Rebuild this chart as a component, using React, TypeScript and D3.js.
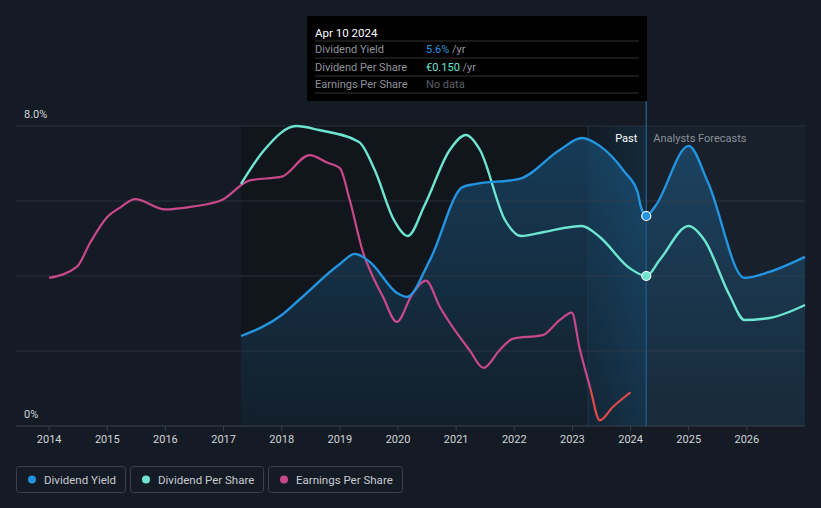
import React from "react";
import * as d3 from "d3";

const W = 821;
const H = 508;

const yearTicks = [2014, 2015, 2016, 2017, 2018, 2019, 2020, 2021, 2022, 2023, 2024, 2025, 2026];

// Dividend Yield (%), [decimal year, value]
const yieldYears = [2017.3, 2018.0, 2018.31, 2019.0, 2019.26, 2019.52, 2019.98, 2020.15, 2020.55, 2021.11, 2021.32, 2022.09, 2022.78, 2023.16, 2023.47, 2023.9, 2024.12, 2024.17, 2024.27, 2024.42, 2025.0, 2025.33, 2025.96, 2026.39, 2027.0];
const yieldValues = [2.4, 2.96, 3.38, 4.32, 4.59, 4.37, 3.55, 3.44, 4.43, 6.37, 6.45, 6.59, 7.36, 7.68, 7.47, 6.77, 6.24, 5.89, 5.6, 5.85, 7.47, 6.5, 3.95, 4.11, 4.51];

// Dividend Per Share (€)
const dpsYears = [2017.3, 2017.7, 2018.25, 2018.64, 2019.33, 2019.6, 2019.93, 2020.17, 2020.46, 2020.89, 2021.17, 2021.41, 2021.84, 2022.12, 2022.51, 2023.16, 2023.47, 2023.98, 2024.27, 2024.5, 2025.0, 2025.27, 2025.7, 2025.96, 2026.39, 2027.0];
const dpsValues = [0.242, 0.276, 0.3, 0.296, 0.284, 0.256, 0.206, 0.19, 0.221, 0.276, 0.291, 0.276, 0.206, 0.19, 0.194, 0.2, 0.189, 0.158, 0.15, 0.166, 0.2, 0.186, 0.131, 0.106, 0.108, 0.121];

// Earnings Per Share (€)
const epsYears = [2014.0, 2014.48, 2014.7, 2015.0, 2015.22, 2015.48, 2015.99, 2016.46, 2016.97, 2017.45, 2018.0, 2018.48, 2018.78, 2019.0, 2019.17, 2019.4, 2019.57, 2019.74, 2019.98, 2020.24, 2020.48, 2020.72, 2021.06, 2021.23, 2021.47, 2021.75, 2021.97, 2022.49, 2022.78, 2022.99, 2023.12, 2023.3, 2023.47, 2023.69, 2024.0];
const epsValues = [1.18, 1.3, 1.55, 1.83, 1.93, 2.02, 1.91, 1.94, 2.01, 2.22, 2.26, 2.49, 2.41, 2.35, 2.01, 1.45, 1.19, 0.98, 0.71, 1.0, 1.15, 0.87, 0.55, 0.41, 0.22, 0.41, 0.53, 0.57, 0.73, 0.81, 0.44, 0.02, -0.34, -0.2, -0.04];

const legendItems = ["Dividend Yield", "Dividend Per Share", "Earnings Per Share"];
const nowYear = 2024.27;
const bandStartYear = 2023.27;

const C_YIELD = "#2394df";
const C_DPS = "#6ce6d1";
const C_EPS = "#c9488a";
const C_NEG = "#e04a4a";
const FONT = "Roboto, 'Open Sans', sans-serif";

export default function App() {
  const left = 16, right = 805, top = 126, bottom = 426;
  const x = d3.scaleLinear().domain([2013.43, 2027.0]).range([left, right]);
  const yPct = d3.scaleLinear().domain([0, 8]).range([bottom, top]);
  const yDps = d3.scaleLinear().domain([0, 0.3]).range([bottom, top]);
  const yEps = d3.scaleLinear().domain([-0.4, 2.8]).range([bottom, top]);

  const yieldData = yieldYears.map((t, i) => [t, yieldValues[i]] as [number, number]);
  const dpsData = dpsYears.map((t, i) => [t, dpsValues[i]] as [number, number]);
  const epsData = epsYears.map((t, i) => [t, epsValues[i]] as [number, number]);

  const curve = d3.curveMonotoneX;
  const yieldLine = d3.line<[number, number]>().x(d => x(d[0])).y(d => yPct(d[1])).curve(curve);
  const yieldArea = d3.area<[number, number]>().x(d => x(d[0])).y0(bottom).y1(d => yPct(d[1])).curve(curve);
  const dpsLine = d3.line<[number, number]>().x(d => x(d[0])).y(d => yDps(d[1])).curve(curve);
  const epsLine = d3.line<[number, number]>().x(d => x(d[0])).y(d => yEps(d[1])).curve(curve);

  const xNow = x(nowYear);
  const xStart = x(yieldYears[0]);
  const xBand = x(bandStartYear);
  const zeroEps = yEps(0);
  const grid = [0, 2, 4, 6, 8];

  const yNowYield = yPct(5.6);
  const yNowDps = yDps(0.15);

  return (
    <svg width={W} height={H} style={{ position: "absolute", left: 0, top: 0, background: "#151b24", fontFamily: FONT }}>
      <defs>
        <linearGradient id="areaGrad" x1="0" y1="0" x2="0" y2="1">
          <stop offset="0%" stopColor={C_YIELD} stopOpacity={0.3} />
          <stop offset="100%" stopColor={C_YIELD} stopOpacity={0.08} />
        </linearGradient>
        <linearGradient id="bandGrad" x1="0" y1="0" x2="1" y2="0">
          <stop offset="0%" stopColor={C_YIELD} stopOpacity={0.04} />
          <stop offset="100%" stopColor={C_YIELD} stopOpacity={0.16} />
        </linearGradient>
        <clipPath id="posClip"><rect x={0} y={0} width={W} height={zeroEps} /></clipPath>
        <clipPath id="negClip"><rect x={0} y={zeroEps} width={W} height={H - zeroEps} /></clipPath>
      </defs>
      <rect x={0} y={0} width={W} height={H} fill="#151b24" />
      {/* past darker region */}
      <rect x={xStart} y={top} width={xNow - xStart} height={bottom - top} fill="#0f1319" opacity={0.7} />
      {/* forecast region */}
      <rect x={xNow} y={top} width={right - xNow} height={bottom - top} fill="#18202b" />
      {/* area under yield */}
      <path d={yieldArea(yieldData) || ""} fill="url(#areaGrad)" />
      {/* last-year band */}
      <rect x={xBand} y={top} width={xNow - xBand} height={bottom - top} fill="url(#bandGrad)" />
      <line x1={xBand} x2={xBand} y1={top} y2={bottom} stroke="#1f3a55" strokeWidth={1} />
      {/* grid */}
      {grid.map(g => (
        <line key={g} x1={left} x2={right} y1={yPct(g)} y2={yPct(g)} stroke="#3a414b" strokeOpacity={g === 0 ? 1 : 0.6} strokeWidth={1} />
      ))}
      {/* now line */}
      <line x1={xNow} x2={xNow} y1={100} y2={bottom} stroke="#1e5680" strokeWidth={1.5} />
      {/* x ticks */}
      {yearTicks.map(t => (
        <g key={t}>
          <line x1={x(t)} x2={x(t)} y1={bottom} y2={bottom + 5} stroke="#3a414b" />
          <text x={x(t)} y={443} textAnchor="middle" fontSize={11} fill="#d0d3d8">{t}</text>
        </g>
      ))}
      {/* y labels */}
      <text x={24} y={118} fontSize={11} fill="#d0d3d8">8.0%</text>
      <text x={24} y={418} fontSize={11} fill="#d0d3d8">0%</text>
      {/* lines */}
      <path d={epsLine(epsData) || ""} fill="none" stroke={C_EPS} strokeWidth={2.2} clipPath="url(#posClip)" />
      <path d={epsLine(epsData) || ""} fill="none" stroke={C_NEG} strokeWidth={2.2} clipPath="url(#negClip)" />
      <path d={dpsLine(dpsData) || ""} fill="none" stroke={C_DPS} strokeWidth={2.4} />
      <path d={yieldLine(yieldData) || ""} fill="none" stroke={C_YIELD} strokeWidth={2.4} />
      <circle cx={xNow} cy={yNowYield} r={4.5} fill={C_YIELD} stroke="#fff" strokeWidth={1.2} />
      <circle cx={xNow} cy={yNowDps} r={4.5} fill={C_DPS} stroke="#fff" strokeWidth={1.2} />
      {/* past / forecast labels */}
      <text x={xNow - 9} y={142} textAnchor="end" fontSize={11} fill="#ffffff">Past</text>
      <text x={xNow + 7} y={142} fontSize={11} fill="#8a9099">Analysts Forecasts</text>
      {/* tooltip */}
      <rect x={307} y={16} width={340} height={85} fill="#000000" />
      <text x={315} y={37} fontSize={11.5} fill="#ffffff">Apr 10 2024</text>
      {[41, 58, 76, 93].map(yy => (
        <line key={yy} x1={315} x2={639} y1={yy} y2={yy} stroke="#333" strokeWidth={1} />
      ))}
      <text x={315} y={53} fontSize={11} fill="#8f949b">Dividend Yield</text>
      <text x={426} y={53} fontSize={11}><tspan fill={C_YIELD}>5.6%</tspan><tspan fill="#8f949b"> /yr</tspan></text>
      <text x={315} y={71} fontSize={11} fill="#8f949b">Dividend Per Share</text>
      <text x={426} y={71} fontSize={11}><tspan fill={C_DPS}>€0.150</tspan><tspan fill="#8f949b"> /yr</tspan></text>
      <text x={315} y={88} fontSize={11} fill="#8f949b">Earnings Per Share</text>
      <text x={426} y={88} fontSize={11} fill="#5d6168">No data</text>
      {/* legend */}
      {legendItems.map((name, i) => {
        const xs = [16, 130, 268];
        const ws = [109, 133, 134];
        const cols = [C_YIELD, C_DPS, C_EPS];
        return (
          <g key={name}>
            <rect x={xs[i] + 0.5} y={466.5} width={ws[i]} height={26} rx={3} fill="none" stroke="#3b424d" />
            <circle cx={xs[i] + 16} cy={479.5} r={4} fill={cols[i]} />
            <text x={xs[i] + 28} y={483.5} fontSize={11.5} fill="#c7cad0">{name}</text>
          </g>
        );
      })}
    </svg>
  );
}
